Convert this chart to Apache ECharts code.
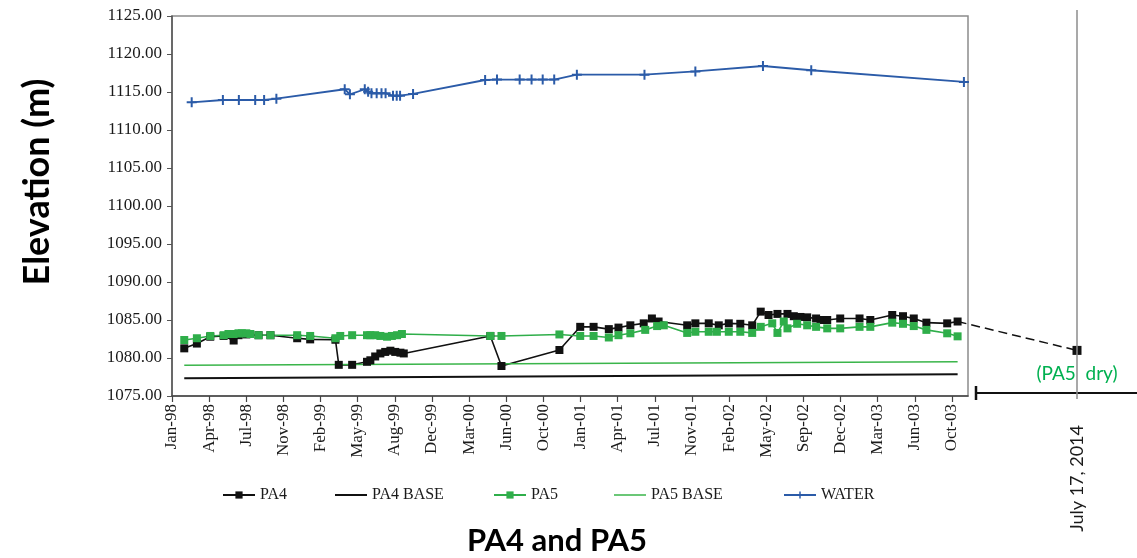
<!DOCTYPE html>
<html>
<head>
<meta charset="utf-8">
<script src="https://cdn.jsdelivr.net/npm/echarts@6/dist/echarts.min.js"></script>
<style>
html,body{margin:0;padding:0;background:#fff;}
#chart{width:1137px;height:558px;}
</style>
</head>
<body>
<div id="chart"></div>
<script>
// ---------- DATA ----------
const xTickLabels = ['Jan-98','Apr-98','Jul-98','Nov-98','Feb-99','May-99','Aug-99','Dec-99','Mar-00','Jun-00','Oct-00','Jan-01','Apr-01','Jul-01','Nov-01','Feb-02','May-02','Sep-02','Dec-02','Mar-03','Jun-03','Oct-03'];
const xTickStartSerial = 35800;   // Excel serial of first tick (5 Jan 1998)
const xTickStep = 100;            // days between ticks
const xAxisEndSerial = 37943;

const pa4Dates = ['1998-02-07','1998-03-13','1998-04-18','1998-05-24','1998-06-20','1998-07-03','1998-07-24','1998-08-26','1998-09-27','1998-12-08','1999-01-12','1999-03-21','1999-03-30','1999-05-05','1999-06-14','1999-06-23','1999-07-06','1999-07-20','1999-08-02','1999-08-16','1999-08-29','1999-09-12','1999-09-21','2000-05-11','2000-06-10','2000-11-13','2001-01-08','2001-02-13','2001-03-26','2001-04-21','2001-05-23','2001-06-28','2001-07-20','2001-08-07','2001-10-23','2001-11-14','2001-12-20','2002-01-16','2002-02-12','2002-03-15','2002-04-16','2002-05-09','2002-05-30','2002-06-23','2002-07-20','2002-08-06','2002-08-24','2002-09-11','2002-10-05','2002-10-17','2002-11-04','2002-12-09','2003-01-30','2003-02-28','2003-04-28','2003-05-27','2003-06-25','2003-07-29','2003-09-23','2003-10-21'];
const pa4Values = [1081.27,1081.90,1082.80,1082.90,1082.30,1083.00,1083.10,1083.00,1083.00,1082.60,1082.45,1082.40,1079.10,1079.10,1079.50,1079.70,1080.20,1080.60,1080.80,1080.96,1080.80,1080.70,1080.60,1082.90,1078.95,1081.05,1084.10,1084.10,1083.80,1084.00,1084.30,1084.56,1085.20,1084.80,1084.30,1084.56,1084.56,1084.30,1084.56,1084.50,1084.30,1086.10,1085.66,1085.80,1085.80,1085.50,1085.40,1085.35,1085.20,1085.00,1085.00,1085.20,1085.20,1085.00,1085.66,1085.50,1085.20,1084.65,1084.56,1084.80];

const pa5Dates = ['1998-02-07','1998-03-13','1998-04-18','1998-05-24','1998-06-06','1998-06-20','1998-07-03','1998-07-12','1998-07-24','1998-08-04','1998-08-26','1998-09-27','1998-12-08','1999-01-12','1999-03-21','1999-04-03','1999-05-05','1999-06-14','1999-06-23','1999-07-06','1999-07-20','1999-08-07','1999-08-20','1999-09-03','1999-09-16','2000-05-11','2000-06-10','2000-11-13','2001-01-08','2001-02-13','2001-03-26','2001-04-21','2001-05-23','2001-07-02','2001-08-03','2001-08-21','2001-10-23','2001-11-14','2001-12-20','2002-01-11','2002-02-12','2002-03-15','2002-04-16','2002-05-09','2002-06-09','2002-06-23','2002-07-10','2002-07-20','2002-08-15','2002-09-11','2002-10-05','2002-11-04','2002-12-09','2003-01-30','2003-02-28','2003-04-28','2003-05-27','2003-06-25','2003-07-29','2003-09-23','2003-10-21'];
const pa5Values = [1082.37,1082.60,1082.90,1083.00,1083.16,1083.16,1083.25,1083.25,1083.25,1083.16,1083.00,1083.00,1083.00,1082.90,1082.60,1082.90,1083.00,1083.00,1083.00,1083.00,1082.90,1082.80,1082.90,1083.00,1083.16,1082.90,1082.90,1083.10,1082.90,1082.90,1082.70,1083.00,1083.25,1083.70,1084.20,1084.30,1083.30,1083.45,1083.45,1083.45,1083.45,1083.45,1083.30,1084.10,1084.56,1083.30,1084.80,1083.90,1084.50,1084.30,1084.10,1083.90,1083.90,1084.10,1084.10,1084.65,1084.50,1084.20,1083.70,1083.25,1082.85];

const pa4BaseDates = ['1998-02-07','2003-10-21'];
const pa4BaseValues = [1077.35,1077.85];
const pa5BaseDates = ['1998-02-07','2003-10-21'];
const pa5BaseValues = [1079.05,1079.50];

const waterDates = ['1998-02-27','1998-05-22','1998-07-04','1998-08-17','1998-09-10','1998-10-13','1999-04-15','1999-04-29','1999-06-08','1999-06-17','1999-06-26','1999-07-10','1999-07-23','1999-08-03','1999-08-23','1999-09-02','1999-09-11','1999-10-16','2000-04-27','2000-05-29','2000-07-29','2000-08-30','2000-09-29','2000-10-30','2000-12-30','2001-06-30','2001-11-14','2002-05-15','2002-09-22','2003-11-07'];
const waterValues = [1113.64,1113.95,1113.95,1113.95,1113.95,1114.12,1115.36,1114.70,1115.36,1115.04,1114.83,1114.83,1114.83,1114.83,1114.51,1114.51,1114.51,1114.74,1116.58,1116.64,1116.64,1116.64,1116.64,1116.64,1117.28,1117.28,1117.71,1118.42,1117.86,1116.32];

const laterDate = '2014-07-17';
const laterDateLabel = 'July 17, 2014';
const laterPA4Value = 1081.0;
const laterNote = '(PA5  dry)';

const legendNames = ['PA4','PA4 BASE','PA5','PA5 BASE','WATER'];

// ---------- HELPERS ----------
function toSerial(s){
  const p = s.split('-').map(Number);
  return Math.round((Date.UTC(p[0],p[1]-1,p[2]) - Date.UTC(1899,11,30))/86400000);
}
function pairs(dates, vals){ return dates.map((d,i)=>[toSerial(d), vals[i]]); }

// ---------- LAYOUT ----------
const G0 = {left:172, top:16, width:796, height:380};
const Y_MIN = 1075, Y_MAX = 1125;
const chartW = 1137;
const laterPx = 1077;          // where the later date sits
const extLineLeft = 976;       // start of the extension axis line
const extLineBottom = 393;
const extTop = 10;             // top of the later-date vertical line

const lastSerial = toSerial(pa4Dates[pa4Dates.length-1]);
const lastVal = pa4Values[pa4Values.length-1];
const laterSerial = toSerial(laterDate);
const lastPx = G0.left + (lastSerial - xTickStartSerial)/(xAxisEndSerial - xTickStartSerial)*G0.width;
const daysPerPx = (laterSerial - lastSerial)/(laterPx - lastPx);
const g1Left = Math.floor(lastPx) - 3;
const g1Min = lastSerial - (lastPx - g1Left)*daysPerPx;
const g1Max = g1Min + (chartW - g1Left)*daysPerPx;
const unitsPerPx = (Y_MAX - Y_MIN)/G0.height;
const g1YMax = Y_MAX + (G0.top - extTop)*unitsPerPx;
const g1Height = G0.top + G0.height - extTop;

const tickSerials = xTickLabels.map((_,i)=>xTickStartSerial + i*xTickStep);

const SERIF = '"Liberation Serif","Times New Roman",serif';
const SANS = 'Lato,"Open Sans",sans-serif';
const plusPath = 'path://M4,0H6V4H10V6H6V10H4V6H0V4H4Z';
const lineIcon = 'path://M0,0H32V2H0Z';
const thinLineIcon = 'path://M0,0H32V1.5H0Z';

const legendLefts = [222, 335, 493, 614, 783];
const legendIcons = [null, lineIcon, null, thinLineIcon, null];
const legends = legendNames.map((n,i)=>{
  const item = legendIcons[i] ? {name:n, icon:legendIcons[i]} : {name:n};
  return {data:[item], left:legendLefts[i], top:487, padding:0, itemWidth:32, itemHeight:9, itemGap:0,
    textStyle:{fontFamily:SERIF, fontSize:16, color:'#1a1a1a'}};
});

const chart = echarts.init(document.getElementById('chart'), null, {renderer:'canvas'});
chart.setOption({
  backgroundColor:'#ffffff',
  animation:false,
  grid:[
    {left:G0.left, top:G0.top, width:G0.width, height:G0.height, show:true, borderColor:'#8c8c8c', borderWidth:1.5, backgroundColor:'transparent'},
    {left:g1Left, right:0, top:extTop, height:g1Height, show:false},
    {left:extLineLeft, right:0, top:G0.top, height:extLineBottom - G0.top, show:false}
  ],
  xAxis:[
    {gridIndex:0, type:'value', min:xTickStartSerial, max:xAxisEndSerial, interval:xTickStep,
     axisLine:{show:true, lineStyle:{color:'#444', width:1.5}},
     axisTick:{show:true, customValues:tickSerials, length:6, lineStyle:{color:'#444', width:1.2}},
     axisLabel:{show:true, customValues:tickSerials, rotate:90, margin:8, fontFamily:SERIF, fontSize:17, color:'#1a1a1a',
       formatter:function(v){ const i = Math.round((v - xTickStartSerial)/xTickStep); return xTickLabels[i] || ''; }},
     splitLine:{show:false}},
    {gridIndex:1, type:'value', min:g1Min, max:g1Max,
     axisLine:{show:false},
     axisTick:{show:true, customValues:[laterSerial], length:3, lineStyle:{color:'#8c8c8c', width:1.5}},
     axisLabel:{show:true, customValues:[laterSerial], rotate:90, margin:29, fontFamily:SANS, fontSize:18, color:'#1a1a1a',
       formatter:function(){ return laterDateLabel; }},
     splitLine:{show:false}},
    {gridIndex:2, type:'value', min:0, max:1,
     axisLine:{show:true, symbol:['rect','none'], symbolSize:[14,2.5], lineStyle:{color:'#111', width:2}},
     axisTick:{show:false}, axisLabel:{show:false}, splitLine:{show:false}}
  ],
  yAxis:[
    {gridIndex:0, type:'value', min:Y_MIN, max:Y_MAX, interval:5,
     axisLine:{show:true, lineStyle:{color:'#555', width:1.5}},
     axisTick:{show:true, length:5, lineStyle:{color:'#555'}},
     axisLabel:{margin:10, fontFamily:SERIF, fontSize:17, color:'#1a1a1a', formatter:function(v){return v.toFixed(2);}},
     splitLine:{show:false}},
    {gridIndex:1, type:'value', min:Y_MIN, max:g1YMax, show:false},
    {gridIndex:2, type:'value', min:0, max:1, show:false}
  ],
  legend:legends,
  graphic:[
    {type:'text', x:37, y:182, rotation:Math.PI/2,
     style:{text:'Elevation (m)', font:'bold 36px Lato, "Open Sans", sans-serif', fill:'#000', align:'center', verticalAlign:'middle'}},
    {type:'text', x:557, y:541,
     style:{text:'PA4 and PA5', font:'bold 31px Lato, "Open Sans", sans-serif', fill:'#000', align:'center', verticalAlign:'middle'}}
  ],
  series:[
    {name:'PA4', type:'line', xAxisIndex:0, yAxisIndex:0, data:pairs(pa4Dates,pa4Values),
     symbol:'rect', symbolSize:8, itemStyle:{color:'#111'}, lineStyle:{color:'#111', width:1.6}},
    {name:'PA4 BASE', type:'line', xAxisIndex:0, yAxisIndex:0, data:pairs(pa4BaseDates,pa4BaseValues),
     symbol:'none', itemStyle:{color:'#111'}, lineStyle:{color:'#111', width:2}},
    {name:'PA5', type:'line', xAxisIndex:0, yAxisIndex:0, data:pairs(pa5Dates,pa5Values),
     symbol:'rect', symbolSize:8, itemStyle:{color:'#2fae4a'}, lineStyle:{color:'#2fae4a', width:1.6}},
    {name:'PA5 BASE', type:'line', xAxisIndex:0, yAxisIndex:0, data:pairs(pa5BaseDates,pa5BaseValues),
     symbol:'none', itemStyle:{color:'#3ab54a'}, lineStyle:{color:'#3ab54a', width:1.5}},
    {name:'WATER', type:'line', xAxisIndex:0, yAxisIndex:0, data:pairs(waterDates,waterValues),
     symbol:plusPath, symbolSize:10, itemStyle:{color:'#2b5ba8'}, lineStyle:{color:'#2b5ba8', width:1.8}},
    {name:'PA4 later', type:'line', xAxisIndex:1, yAxisIndex:1, z:3,
     data:[
       {value:[lastSerial, lastVal], symbol:'none'},
       {value:[laterSerial, laterPA4Value], symbol:'rect', symbolSize:9,
        label:{show:true, position:'bottom', distance:9, formatter:laterNote, fontFamily:SANS, fontSize:19, color:'#00b050'}}
     ],
     itemStyle:{color:'#111'}, lineStyle:{color:'#111', width:1.5, type:[9,5]},
     markLine:{silent:true, symbol:'none', label:{show:false}, lineStyle:{color:'#8c8c8c', width:1.5, type:'solid'},
       data:[{xAxis:laterSerial}]}}
  ]
});
</script>
</body>
</html>
